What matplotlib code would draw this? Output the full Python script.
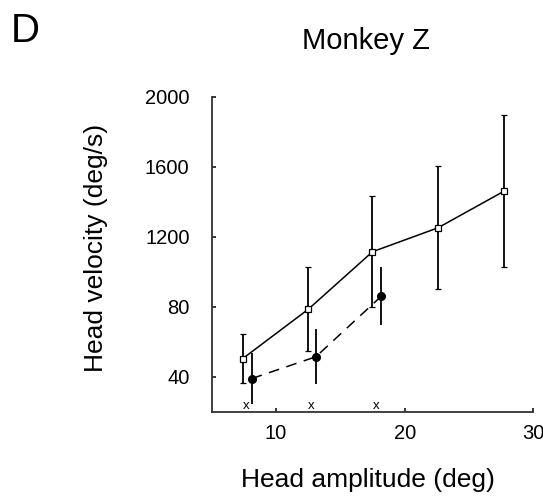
"""Monkey Z: head velocity vs head amplitude"""

import matplotlib
matplotlib.use('Agg')
import matplotlib.pyplot as plt

plt.rcParams['font.family'] = ['Liberation Sans', 'DejaVu Sans']

# solid line, open squares
amp_a = [7.4, 12.5, 17.5, 22.6, 27.7]
vel_a = [503, 785, 1114, 1251, 1459]
err_a_hi = [644, 1027, 1430, 1606, 1895]
err_a_lo = [362, 549, 800, 901, 1027]

# dashed line, filled circles
amp_b = [8.1, 13.1, 18.2]
vel_b = [389, 514, 861]
err_b_hi = [537, 670, 1029]
err_b_lo = [244, 358, 695]

# small "x" marks above the x axis
x_marks = [7.65, 12.7, 17.75]

y_ticks = [400, 800, 1200, 1600, 2000]
y_tick_labels = ['40', '80', '1200', '1600', '2000']
x_ticks = [10, 20, 30]

fig = plt.figure(figsize=(5.43, 4.96), dpi=100)
ax = fig.add_axes([0.390, 0.170, 0.592, 0.635])

yerr_a = [[v - lo for v, lo in zip(vel_a, err_a_lo)],
          [hi - v for v, hi in zip(vel_a, err_a_hi)]]
yerr_b = [[v - lo for v, lo in zip(vel_b, err_b_lo)],
          [hi - v for v, hi in zip(vel_b, err_b_hi)]]

ax.errorbar(amp_a, vel_a, yerr=yerr_a, color='black', linewidth=1.1,
            marker='s', markersize=4.5, markerfacecolor='white',
            markeredgecolor='black', markeredgewidth=0.9,
            ecolor='black', elinewidth=1.3, capsize=2.5, capthick=1.1)
ax.errorbar(amp_b, vel_b, yerr=yerr_b, color='black', linewidth=1.1,
            linestyle=(0, (7, 5)), marker='o', markersize=5.5,
            markerfacecolor='black', markeredgecolor='black',
            ecolor='black', elinewidth=1.3, capsize=0)

for xm in x_marks:
    ax.text(xm, 232, 'x', fontsize=9.5, ha='center', va='center')

ax.set_xlim(5, 30)
ax.set_ylim(200, 2000)
ax.set_xticks(x_ticks)
ax.set_yticks(y_ticks)
ax.set_yticklabels(y_tick_labels)

ax.spines['top'].set_visible(False)
ax.spines['right'].set_visible(False)
ax.spines['left'].set_linewidth(1.3)
ax.spines['bottom'].set_linewidth(1.3)
ax.spines['left'].set_color('#333333')
ax.spines['bottom'].set_color('#333333')

ax.tick_params(axis='x', direction='in', length=3, width=1.1,
               labelsize=14.5, pad=9)
ax.tick_params(axis='y', direction='in', length=3, width=1.1,
               labelsize=14.5, pad=16)

fig.text(0.177, 0.500, 'Head velocity (deg/s)', rotation=90,
         fontsize=19, ha='center', va='center')
fig.text(0.678, 0.032, 'Head amplitude (deg)', fontsize=19,
         ha='center', va='center')
fig.text(0.674, 0.917, 'Monkey Z', fontsize=21, ha='center', va='center')
fig.text(0.020, 0.937, 'D', fontsize=29, ha='left', va='center')

plt.savefig('out.png', dpi=100)
